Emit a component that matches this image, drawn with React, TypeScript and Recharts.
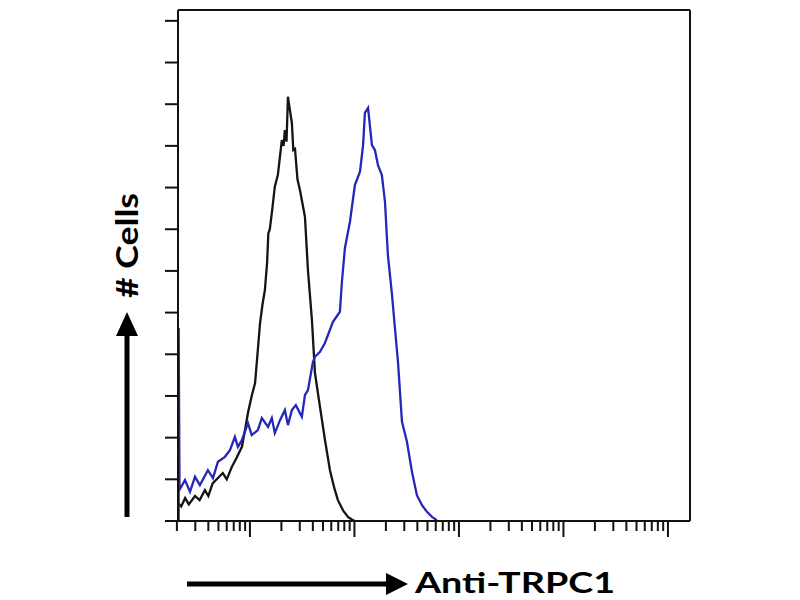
import React from "react";
import { LineChart, Line, XAxis, YAxis, ReferenceLine } from "recharts";

// Isotype control (black)
const controlX = [2.05, 2.2, 2.4, 2.6, 2.98, 3.3, 3.71, 4.0, 4.4, 4.94, 5.5, 6.0, 6.72, 7.4, 8.38, 9.0, 9.57, 10.4, 11.2, 11.9, 12.5, 13.2, 13.9, 14.6, 15.0, 15.5, 16.4, 17.3, 18.5, 20.2, 21.0, 21.6, 22.4, 23.1, 24.0, 25.2, 26.0, 27.0, 28.5, 30.1, 33.6, 35.9, 39.2, 41.9, 46.8, 52.2, 58.3, 64, 69.5, 78, 86.7, 95, 101];
const controlY = [0.43, 0.35, 0.55, 0.4, 0.6, 0.5, 0.74, 0.6, 0.9, 1.03, 1.15, 1.0, 1.3, 1.5, 1.78, 2.2, 2.59, 3.0, 3.31, 4.1, 4.75, 5.2, 5.54, 6.2, 6.9, 7.0, 7.5, 8.02, 8.3, 9.14, 9.0, 9.38, 9.1, 10.18, 9.9, 9.55, 8.9, 8.93, 8.2, 7.94, 7.3, 6.02, 4.82, 3.55, 2.74, 1.95, 1.22, 0.8, 0.5, 0.25, 0.1, 0.03, 0];

// Anti-TRPC1 (blue)
const trpc1X = [2.08, 2.08, 2.12, 2.39, 2.67, 2.98, 3.32, 3.96, 4.43, 4.94, 5.76, 6.44, 7.18, 7.68, 8.38, 9.57, 10.4, 11.9, 13.0, 14.9, 16.2, 17.3, 19.4, 21.6, 23.1, 25.2, 27.5, 31.4, 33.6, 35.9, 40.1, 41.9, 46.8, 52.2, 62.3, 72.6, 75.9, 81.1, 90.6, 101, 113, 121, 126, 135, 147, 157, 168, 183, 196, 209, 229, 244, 261, 285, 318, 355, 396, 443, 494, 552, 615];
const trpc1Y = [0, 4.63, 0.75, 0.98, 0.7, 1.06, 0.86, 1.22, 1.03, 1.42, 1.54, 1.7, 2.02, 1.78, 1.94, 2.35, 2.06, 2.18, 2.47, 2.26, 2.47, 2.11, 2.42, 2.66, 2.3, 2.66, 2.78, 2.5, 3.02, 3.14, 3.82, 3.94, 4.06, 4.27, 4.78, 5.02, 5.74, 6.55, 7.18, 8.06, 8.38, 9.02, 9.79, 9.91, 9.02, 8.9, 8.54, 8.3, 7.66, 6.38, 5.42, 4.63, 3.82, 2.38, 1.9, 1.18, 0.62, 0.38, 0.22, 0.1, 0.02];

const xTicks = [2, 3, 4, 5, 6, 7, 8, 9, 10, 20, 30, 40, 50, 60, 70, 80, 90, 100, 200, 300, 400, 500, 600, 700, 800, 900, 1000, 2000, 3000, 4000, 5000, 6000, 7000, 8000, 9000, 10000, 20000, 30000, 40000, 50000, 60000, 70000, 80000, 90000, 100000];
const xMajor = [10, 100, 1000, 10000, 100000];
const yTicks = [0, 1, 2, 3, 4, 5, 6, 7, 8, 9, 10, 11, 12];

const X_MIN = 2.05;
const X_MAX = 162500;
const Y_MAX = 12.26;

const controlData = controlX.map((x, i) => ({ x, y: controlY[i] }));
const trpc1Data = trpc1X.map((x, i) => ({ x, y: trpc1Y[i] }));

const XTick = (props: any) => {
  const { x, y, payload } = props;
  const len = xMajor.includes(payload.value) ? 16 : 10;
  return <line x1={x} x2={x} y1={y} y2={y + len} stroke="#111" strokeWidth={2} />;
};

const YTick = (props: any) => {
  const { x, y } = props;
  return <line x1={x - 13} x2={x} y1={y} y2={y} stroke="#111" strokeWidth={2} />;
};

const font = "Lato, 'Open Sans', 'Liberation Sans', sans-serif";

export default function App() {
  return (
    <div style={{ position: "absolute", left: 0, top: 0, width: 800, height: 600, background: "#fff" }}>
      <LineChart
        width={800}
        height={600}
        margin={{ top: 10, right: 110, bottom: 49, left: 118 }}
      >
        <XAxis
          dataKey="x"
          type="number"
          scale="log"
          domain={[X_MIN, X_MAX]}
          allowDataOverflow
          ticks={xTicks}
          interval={0}
          height={30}
          tickSize={0}
          tickMargin={0}
          tickLine={false}
          tick={<XTick />}
          axisLine={{ stroke: "#111", strokeWidth: 2 }}
        />
        <YAxis
          type="number"
          domain={[0, Y_MAX]}
          allowDataOverflow
          ticks={yTicks}
          interval={0}
          width={60}
          tickSize={0}
          tickMargin={0}
          tickLine={false}
          tick={<YTick />}
          axisLine={{ stroke: "#111", strokeWidth: 2 }}
        />
        <ReferenceLine y={Y_MAX} stroke="#111" strokeWidth={2} />
        <ReferenceLine x={X_MAX} stroke="#111" strokeWidth={2} />
        <Line
          data={controlData}
          dataKey="y"
          type="linear"
          stroke="#141414"
          strokeWidth={2.3}
          dot={false}
          isAnimationActive={false}
        />
        <Line
          data={trpc1Data}
          dataKey="y"
          type="linear"
          stroke="#2626b8"
          strokeWidth={2.3}
          dot={false}
          isAnimationActive={false}
        />
      </LineChart>
      <svg
        width={800}
        height={600}
        style={{ position: "absolute", left: 0, top: 0, pointerEvents: "none" }}
      >
        {/* y axis label with arrow */}
        <line x1={127} x2={127} y1={517} y2={332} stroke="#000" strokeWidth={5} />
        <polygon points="127,312 116,336 138,336" fill="#000" />
        <text
          x={138}
          y={245.5}
          transform="rotate(-90 138 245.5)"
          textAnchor="middle"
          fontFamily={font}
          fontWeight={700}
          fontSize={30}
          textLength={105}
          lengthAdjust="spacingAndGlyphs"
          fill="#000"
        >
          # Cells
        </text>
        {/* x axis label with arrow */}
        <line x1={187} x2={390} y1={584} y2={584} stroke="#000" strokeWidth={5} />
        <polygon points="408,584 386,573 386,595" fill="#000" />
        <text
          x={415}
          y={593}
          fontFamily={font}
          fontWeight={700}
          fontSize={29}
          textLength={200}
          lengthAdjust="spacingAndGlyphs"
          fill="#000"
        >
          Anti-TRPC1
        </text>
      </svg>
    </div>
  );
}
